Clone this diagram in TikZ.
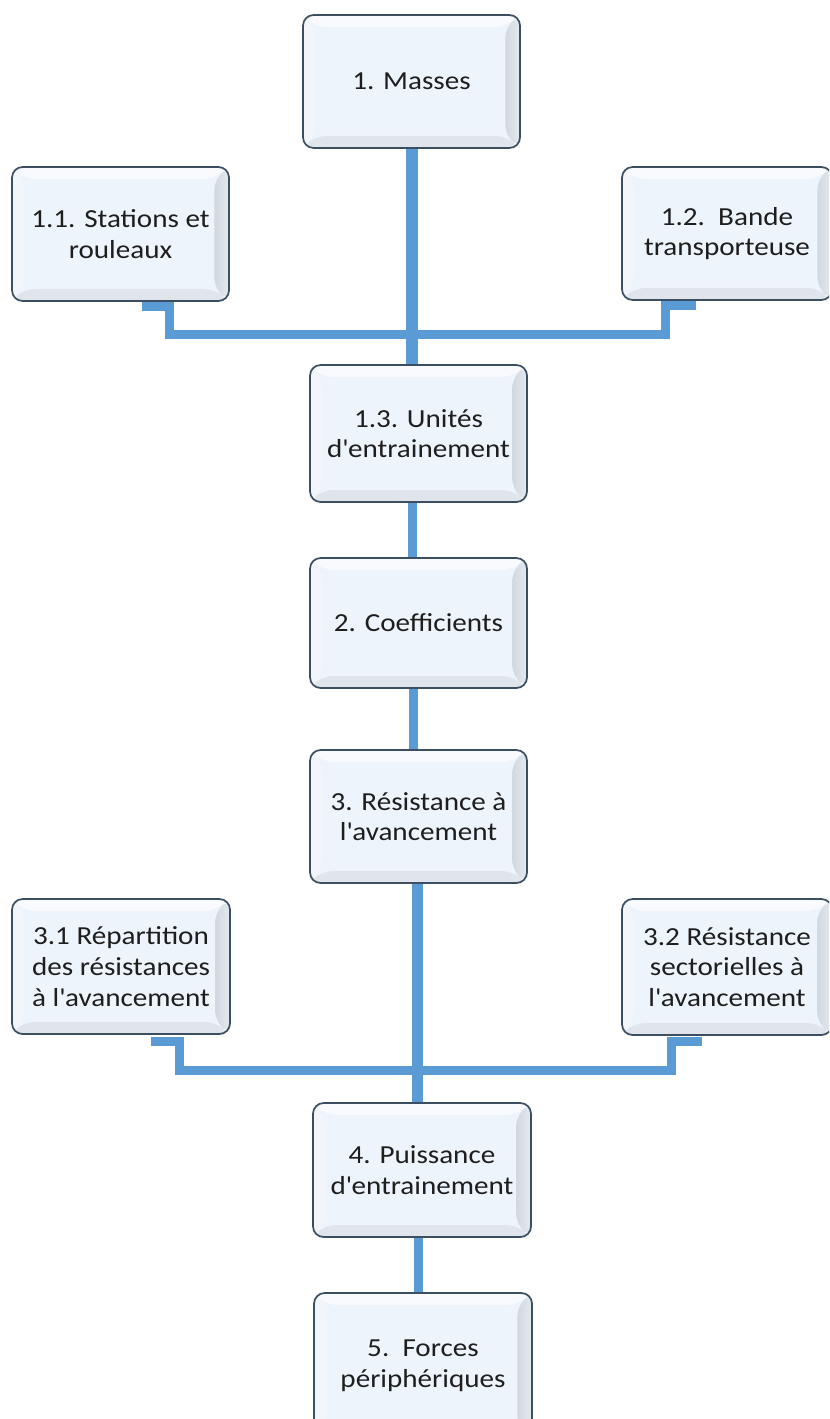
\documentclass[tikz,border=0pt]{standalone}
\usepackage{fontspec}
\setmainfont{Carlito}[FakeStretch=1.12]
\usetikzlibrary{calc}

\definecolor{boxline}{HTML}{3C4F62}
\definecolor{boxface}{HTML}{EEF4FB}
\definecolor{boxrim}{HTML}{E4EAF0}
\definecolor{bevlight}{HTML}{F8FAFD}
\definecolor{bevside}{HTML}{F2F6FA}
\definecolor{bevdark}{HTML}{D2D8DF}
\definecolor{bevbottom}{HTML}{DFE5EB}
\definecolor{linkblue}{HTML}{5B9BD5}
\definecolor{ink}{HTML}{1E1E1E}

% straight apostrophe, set as a glyph so no ligature mapping touches it
\newcommand\myapos{\XeTeXglyph\XeTeXcharglyph"0027\relax}

\tikzset{
  card/.style={
    draw=boxline, line width=1.3pt, rounded corners=8pt,
    fill=boxface, text=ink, align=center, inner sep=0pt,
    font=\fontsize{19.5pt}{23pt}\selectfont,
    minimum width=162.75pt, minimum height=100pt,
    path picture={
      \path (path picture bounding box.north west) coordinate (pnw)
            (path picture bounding box.north east) coordinate (pne)
            (path picture bounding box.south west) coordinate (psw)
            (path picture bounding box.south east) coordinate (pse);
      % bevelled rim: light top/left, darker right/bottom
      \fill[bevlight] (pnw) -- (pne) -- ([xshift=-11pt,yshift=-9pt]pne)
                      -- ([xshift=9pt,yshift=-9pt]pnw) -- cycle;
      \fill[bevside] (pnw) -- ([xshift=9pt,yshift=-9pt]pnw)
                     -- ([xshift=9pt,yshift=9pt]psw) -- (psw) -- cycle;
      \shade[left color=bevdark, right color=boxrim]
             (pne) -- (pse) -- ([xshift=-11pt,yshift=9pt]pse)
             -- ([xshift=-11pt,yshift=-9pt]pne) -- cycle;
      \fill[bevbottom] (psw) -- (pse) -- ([xshift=-11pt,yshift=9pt]pse)
                       -- ([xshift=9pt,yshift=9pt]psw) -- cycle;
    }
  },
  link/.style={draw=linkblue, line width=6.75pt},
  trunk/.style={draw=linkblue, line width=8.5pt},
}

\begin{document}
\begin{tikzpicture}[x=0.75pt, y=-0.75pt]
  \useasboundingbox (0,0) rectangle (829,1419);
  \clip (0,0) rectangle (829,1419);

  % boxes
  \node[card, minimum height=99.75pt] (m) at (411.5,81.5) {1. Masses};
  \node[card, minimum height=100.5pt] (a) at (120.5,234) {1.1. Stations et\\rouleaux};
  \node[card, minimum width=157.5pt, minimum height=99.75pt] (b) at (727,233.5) {1.2.\ \ Bande\\transporteuse};
  \node[card, minimum height=102.75pt] (u) at (418.5,433.5) {1.3. Unités\\d\myapos entrainement};
  \node[card, minimum height=97.5pt] (c) at (418.5,623) {2. Coefficients};
  \node[card, minimum height=99.75pt] (r) at (418.5,816.5) {3. Résistance à\\l\myapos avancement};
  \node[card, minimum width=163.5pt, minimum height=101.25pt] (d) at (121,966.5) {3.1 Répartition\\des résistances\\à l\myapos avancement};
  \node[card, minimum width=157.5pt, minimum height=102pt] (e) at (727,967) {3.2 Résistance\\sectorielles à\\l\myapos avancement};
  \node[card, minimum width=163.5pt, minimum height=100.5pt] (p) at (422,1170) {4. Puissance\\d\myapos entrainement};
  \node[card, minimum width=163.5pt, minimum height=109.5pt] (f) at (423,1366) {5.\ \ Forces\\périphériques};

  % junctions on the vertical spine
  \coordinate (j1) at ($(m.south)+(0,185.5)$);
  \coordinate (j2) at ($(r.south)+(-0.5,186.5)$);

  % spine
  \draw[trunk, line width=9pt] (m.south) -- (m.south |- u.north);
  \draw[link] ([xshift=-4.5pt]u.south) -- ([xshift=-4.5pt]u.south |- c.north);
  \draw[link] ([xshift=-4pt]c.south) -- ([xshift=-4pt]c.south |- r.north);
  \draw[trunk] ([xshift=-0.75pt]r.south) -- ([xshift=-0.75pt]r.south |- p.north);
  \draw[link] ([xshift=-2.6pt]p.south) -- ([xshift=-2.6pt]p.south |- f.north);

  % side branches
  \draw[link] ($(a.south west)+(131,5)$) -- ++(27.5,0) |- (j1);
  \draw[link] ($(b.south west)+(75,5)$) -- ++(-30.5,0) |- (j1);
  \draw[link] ($(d.south west)+(140,7)$) -- ++(28.5,0) |- (j2);
  \draw[link] ($(e.south west)+(81,6)$) -- ++(-30.5,0) |- (j2);
\end{tikzpicture}
\end{document}
